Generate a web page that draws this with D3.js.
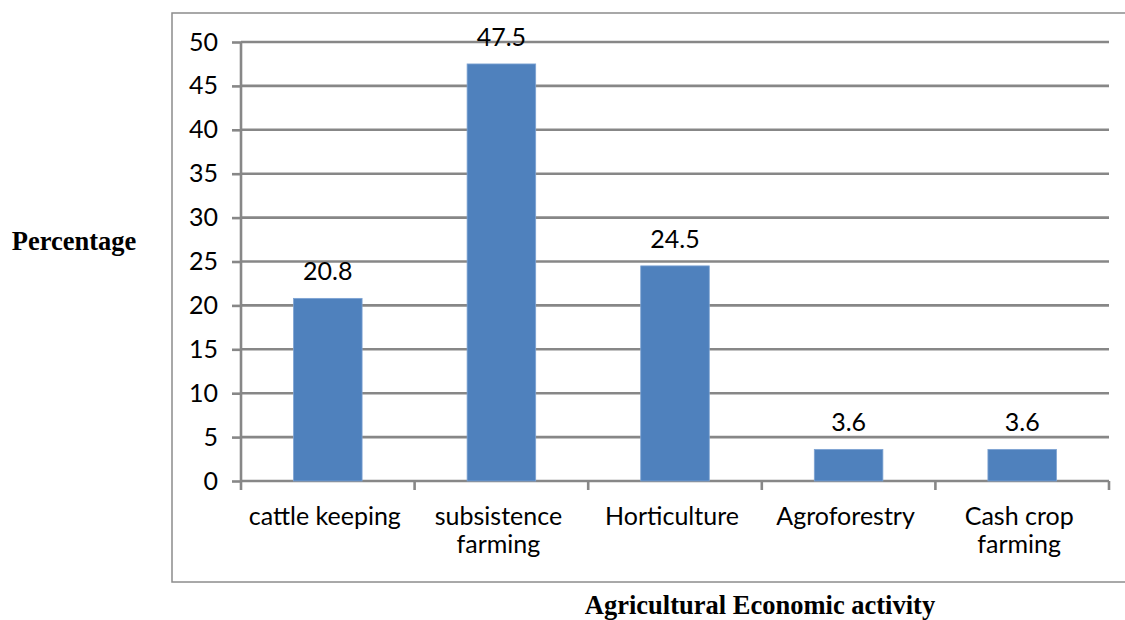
<!DOCTYPE html>
<html>
<head>
<meta charset="utf-8">
<script src="https://cdn.jsdelivr.net/npm/d3@7"></script>
<style>
  html, body { margin: 0; padding: 0; background: #fff; }
  svg { display: block; }
</style>
</head>
<body>
<svg id="chart" width="1125" height="620"></svg>
<script>
// Share of respondents by agricultural economic activity
const categories = [["cattle keeping"], ["subsistence", "farming"], ["Horticulture"], ["Agroforestry"], ["Cash crop", "farming"]];
const values = [20.8, 47.5, 24.5, 3.6, 3.6];
const yTicks = [0, 5, 10, 15, 20, 25, 30, 35, 40, 45, 50];

const svg = d3.select("#chart");
const plotLeft = 241, plotRight = 1109, plotTop = 42, plotBottom = 481;
const gridColor = "#878787";
const labelFont = "Lato, 'Open Sans', sans-serif";
const labelSize = 25;

// outer chart-area frame
svg.append("rect")
  .attr("x", 172).attr("y", 13)
  .attr("width", 1000).attr("height", 569)
  .attr("fill", "none").attr("stroke", "#8c8c8c").attr("stroke-width", 1.5);

const keys = categories.map(c => c.join(" "));
const x = d3.scaleBand().domain(keys).range([plotLeft, plotRight])
  .paddingInner(0.605).paddingOuter(0.3025);
const xCat = d3.scaleBand().domain(keys).range([plotLeft, plotRight]).padding(0);
const y = d3.scaleLinear().domain([0, 50]).range([plotBottom, plotTop]);

// horizontal gridlines
svg.append("g").selectAll("line").data(yTicks).join("line")
  .attr("x1", plotLeft).attr("x2", plotRight)
  .attr("y1", d => y(d)).attr("y2", d => y(d))
  .attr("stroke", gridColor).attr("stroke-width", 2.6);

// y axis
const yAxis = svg.append("g").attr("transform", `translate(${plotLeft},0)`)
  .call(d3.axisLeft(y).tickValues(yTicks).tickSize(9).tickPadding(14));
yAxis.select(".domain").remove();
yAxis.selectAll(".tick line").attr("stroke", gridColor).attr("stroke-width", 2.6);
yAxis.selectAll(".tick text")
  .attr("font-family", labelFont).attr("font-size", labelSize).attr("fill", "#000");
svg.append("line")
  .attr("x1", plotLeft).attr("x2", plotLeft).attr("y1", plotTop).attr("y2", plotBottom + 9)
  .attr("stroke", gridColor).attr("stroke-width", 2.6);

// category separators on the x axis
const bounds = keys.map(k => xCat(k)).concat([plotRight]);
svg.append("g").selectAll("line").data(bounds.slice(1)).join("line")
  .attr("x1", d => d).attr("x2", d => d)
  .attr("y1", plotBottom).attr("y2", plotBottom + 9)
  .attr("stroke", gridColor).attr("stroke-width", 2.6);

// bars
svg.append("g").selectAll("rect").data(values).join("rect")
  .attr("x", (d, i) => x(keys[i]))
  .attr("y", d => y(d))
  .attr("width", x.bandwidth())
  .attr("height", d => y(0) - y(d))
  .attr("fill", "#4f81bd")
  .attr("stroke", "#7ea3d3").attr("stroke-width", 0.8);

// value labels
svg.append("g").selectAll("text").data(values).join("text")
  .attr("x", (d, i) => x(keys[i]) + x.bandwidth() / 2)
  .attr("y", d => y(d) - 18)
  .attr("text-anchor", "middle")
  .attr("font-family", labelFont).attr("font-size", labelSize).attr("fill", "#000")
  .text(d => d);

// category labels
const catG = svg.append("g").selectAll("text").data(categories).join("text")
  .attr("text-anchor", "middle")
  .attr("font-family", labelFont).attr("font-size", labelSize).attr("fill", "#000")
  .attr("transform", (d, i) => `translate(${xCat(keys[i]) + xCat.bandwidth() / 2 - 3},525)`);
catG.selectAll("tspan").data(d => d).join("tspan")
  .attr("x", 0).attr("dy", (d, i) => i === 0 ? 0 : 28)
  .text(d => d);

// axis titles
svg.append("text")
  .attr("x", 74).attr("y", 250).attr("text-anchor", "middle")
  .attr("font-family", "'Liberation Serif', 'Times New Roman', serif")
  .attr("font-weight", "bold").attr("font-size", 26.5)
  .text("Percentage");
svg.append("text")
  .attr("x", 760).attr("y", 614).attr("text-anchor", "middle")
  .attr("font-family", "'Liberation Serif', 'Times New Roman', serif")
  .attr("font-weight", "bold").attr("font-size", 26.5)
  .text("Agricultural Economic activity");
</script>
</body>
</html>
